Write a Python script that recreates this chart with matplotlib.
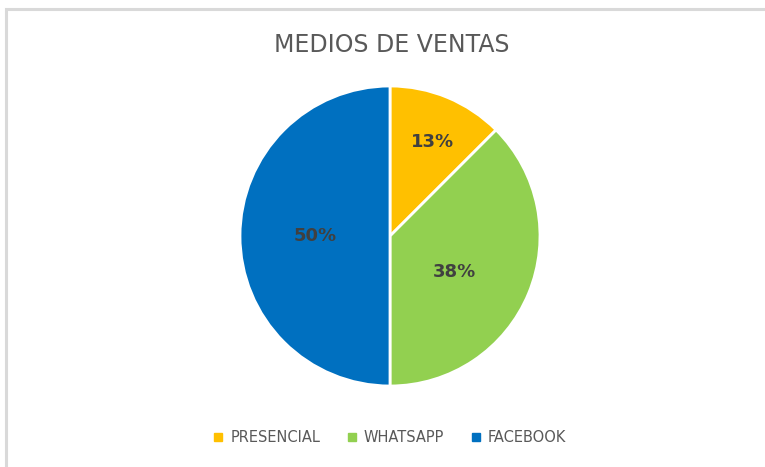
import matplotlib.pyplot as plt
import numpy as np
from matplotlib.lines import Line2D
from matplotlib.patches import Rectangle

# data
canales = ['PRESENCIAL', 'WHATSAPP', 'FACEBOOK']
ventas = [1, 3, 4]
colores = ['#FFC000', '#92D050', '#0070C0']
titulo = 'MEDIOS DE VENTAS'

W, H = 765, 467
fig = plt.figure(figsize=(W / 100, H / 100), dpi=100)

# light grey frame, cut by the right and bottom edges
fig.patches.append(Rectangle((6 / W, -0.05), 1.1, (H - 9) / H + 0.05,
                             transform=fig.transFigure, fill=False,
                             edgecolor='#D9D9D9', linewidth=2.2))

cx, cy, r = 390, 236, 150
ax = fig.add_axes([(cx - r) / W, (H - cy - r) / H, 2 * r / W, 2 * r / H])

wedges, texts, autotexts = ax.pie(
    ventas, colors=colores, startangle=90, counterclock=False,
    autopct=lambda p: '%d%%' % int(p + 0.5),
    wedgeprops=dict(edgecolor='white', linewidth=2),
    textprops=dict(fontsize=13, fontweight='bold', color='#404040'))
ax.set_xlim(-1, 1)
ax.set_ylim(-1, 1)
ax.set_aspect('equal')

# move the percent labels like the original (best fit)
dist = [0.69, 0.49, 0.50]
shift = [-2, -7, 0]
for w, t, d, s in zip(wedges, autotexts, dist, shift):
    ang = np.deg2rad((w.theta1 + w.theta2) / 2 + s)
    t.set_position((d * np.cos(ang), d * np.sin(ang)))

fig.text(392 / W, 1 - 45 / H, titulo, ha='center', va='center',
         fontsize=17, color='#595959')

handles = [Line2D([], [], marker='s', linestyle='none', markersize=6,
                  markerfacecolor=c, markeredgecolor=c) for c in colores]
fig.legend(handles, canales, loc='center', bbox_to_anchor=(388 / W, 1 - 438 / H),
           ncol=3, frameon=False, fontsize=10.5, labelcolor='#595959',
           handletextpad=0.2, columnspacing=1.6, handlelength=1.2)

fig.savefig('out.png', dpi=100)
